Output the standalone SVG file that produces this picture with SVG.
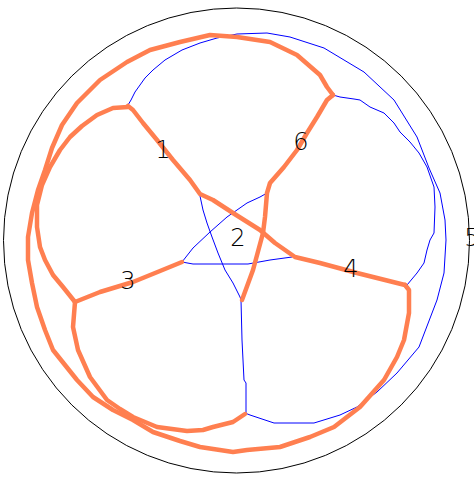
<svg xmlns="http://www.w3.org/2000/svg" width="474" height="477" viewBox="0 0 474 477">
<style>
.bnd{fill:none;stroke:#000;stroke-width:1}
.b{fill:none;stroke:#0000ff;stroke-width:1;stroke-linejoin:round}
.o{fill:none;stroke:#ff7f50;stroke-width:4.5;stroke-linejoin:round;stroke-linecap:round}
.lbl{font-family:"DejaVu Sans",sans-serif;font-size:24px;font-weight:200;fill:#000;text-anchor:middle}
</style>
<rect width="474" height="477" fill="#fff"/>
<g id="boundary">
<ellipse class="bnd" cx="236.5" cy="240.5" rx="233" ry="232.5"/>
</g>
<g id="connectors">
<polyline class="b" points="128,105 131,100 135,92 145,78 153,70 165,60 182,50 200,43 217,38 237,34 267,33 290,37 324,48 364,72 394,100 417,137 429,168 440,193 445,220 446,240 444,273 437,300 419,347 397,373 377,392 357,407 340,415 314,423 274,423 250,415 245,413"/>
<polyline class="b" points="333,95 340,97 354,99 360,100 370,107 384,113 394,123 400,132 410,142 419,153 427,167 434,187 435,207 434,233 430,240 427,250 424,263 417,273 407,285"/>
<polyline class="b" points="200,196 203,210 207,223 212,237 218,253 225,270 233,283 240,297 241,300"/>
<polyline class="b" points="241,300 242,340 244,380 246,383 246,413"/>
<polyline class="b" points="182,262 193,248 210,232 227,217 247,203 260,197 267,193"/>
<polyline class="b" points="182,262 193,264 248,264 270,260 292,257"/>
<polyline class="o" points="128,106 133,110 143,123 157,140 173,160 190,180 200,194 213,200 233,213 260,230 275,243 295,257 320,263 357,273 405,285"/>
<polyline class="o" points="333,95 327,100 317,117 307,133 297,150 284,167 270,183 267,193 265,217 263,233 253,270 242,300"/>
<polyline class="o" points="75,302 100,292 133,282 160,271 182,262"/>
<polyline class="o" points="333,95 327,87 320,75 297,55 270,42 237,37 210,35 180,42 150,50 127,62 100,80 77,103 62,125 52,148 45,170 38,190 32,213 28,237 28,260 32,283 37,307 45,330 53,350 61,360 77,380 93,397 113,410 133,420 153,432 180,441 200,447 233,452 247,450 280,447 310,437 334,427 360,407 384,380 397,357 404,340 409,313 409,290 405,285"/>
<polyline class="o" points="128,107 113,108 97,115 82,126 70,137 60,150 50,167 42,185 37,205 37,227 40,247 45,260 53,275 63,287 75,302"/>
<polyline class="o" points="75,302 73,327 78,350 90,377 107,400 120,409 133,417 157,427 187,431 203,430 213,427 233,422 245,414"/>
</g>
<g id="n1"><text class="lbl" x="163" y="158">1</text></g>
<g id="n2"><text class="lbl" x="238" y="246">2</text></g>
<g id="n3"><text class="lbl" x="128" y="289">3</text></g>
<g id="n4"><text class="lbl" x="351" y="277">4</text></g>
<g id="n5"><text class="lbl" x="472" y="246">5</text></g>
<g id="n6"><text class="lbl" x="301" y="150">6</text></g>
</svg>
